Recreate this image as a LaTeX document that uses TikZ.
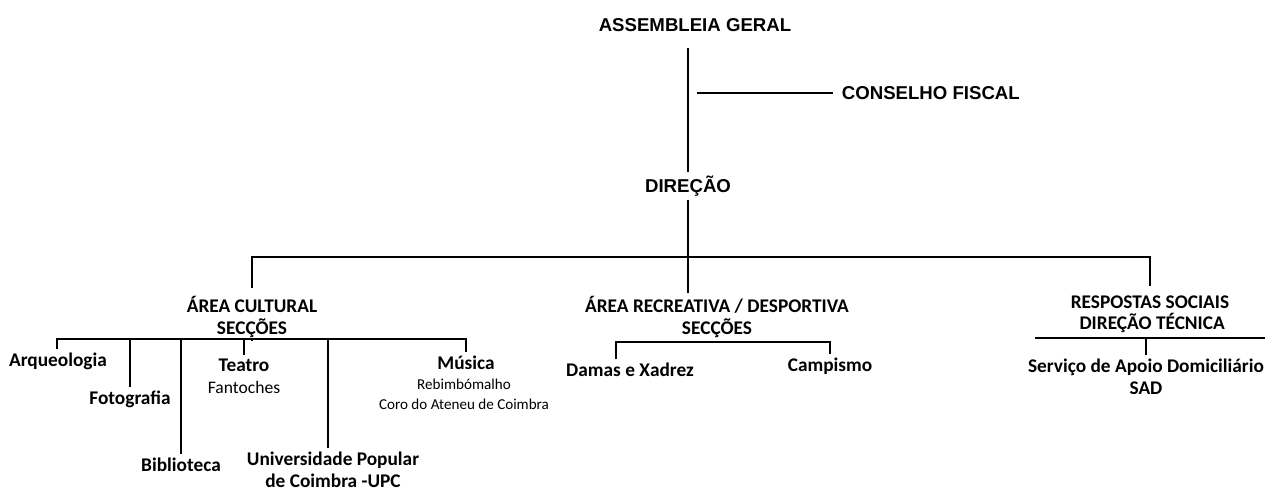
\documentclass[tikz,border=0pt]{standalone}
\usepackage{fontspec}
\setmainfont{Carlito}
\newfontfamily\arialfont{Liberation Sans}
\usetikzlibrary{positioning}

\tikzset{
  orglabel/.style={font=\arialfont\bfseries\fontsize{10.6}{12}\selectfont, inner sep=2pt},
  arealabel/.style={font=\bfseries\fontsize{11}{12}\selectfont, align=center, inner sep=2pt},
  seclabel/.style={font=\bfseries\fontsize{11}{12.5}\selectfont, align=center, inner sep=2pt},
  sublabel/.style={font=\fontsize{8.6}{11.4}\selectfont, align=center, inner sep=1pt},
  link/.style={line width=1pt},
}

\begin{document}
\begin{tikzpicture}[x=0.02cm, y=-0.02cm]
    \useasboundingbox (0,0) rectangle (1272,491);

    % Top of the chart
    \node[orglabel] (ag) at (695,25) {ASSEMBLEIA GERAL};
    \node[orglabel] (dir) at (688,186) {DIREÇÃO};
    \node[orglabel, anchor=west] (cf) at (838,93) {CONSELHO FISCAL};
    \draw[link, shorten <=7pt] (ag.south -| dir.north) -- (dir.north);
    \draw[link, shorten <=5pt, shorten >=3pt] (cf.west -| dir.north) -- (cf.west);

    % Areas
    \coordinate (bus) at (688,257);
    \node[arealabel] (cult) at (252,317) {ÁREA CULTURAL\\SECÇÕES};
    \node[arealabel] (rec) at (717,317) {ÁREA RECREATIVA / DESPORTIVA\\SECÇÕES};
    \node[arealabel] (soc) at (1150,314) {RESPOSTAS SOCIAIS\\\ DIREÇÃO TÉCNICA};
    \draw[link] (dir.south) -- (bus) -- (bus |- rec.north);
    \draw[link, shorten <=3pt, shorten >=3pt] (cult.north) |- (bus) -| (soc.north);

    % Cultural sections
    \coordinate (cbusL) at (57,339);
    \coordinate (cbusR) at (466,339);
    \node[seclabel] (arq) at (58,361) {Arqueologia};
    \node[seclabel] (foto) at (130,399) {Fotografia};
    \node[seclabel] (bib) at (181,465) {Biblioteca};
    \node[seclabel] (teat) at (244,365) {Teatro};
    \node[sublabel, font=\fontsize{10}{12}\selectfont, below=2pt of teat] (teatsub) {Fantoches};
    \node[seclabel] (upc) at (333,470) {Universidade Popular\\de Coimbra -UPC};
    \node[seclabel] (mus) at (466,363) {Música};
    \node[sublabel] (musub) at (464,394) {Rebimbómalho\\Coro do Ateneu de Coimbra};
    \draw[link] (cbusL |- arq.north) -- (cbusL) -- (cbusR) -- (cbusR |- mus.north);
    \draw[link] (cult.south) -- (cult.south |- cbusL);
    \foreach \sec in {foto,bib,teat}
        \draw[link] (\sec.north) -- (\sec.north |- cbusL);
    \draw[link] ([xshift=-3pt]upc.north) -- ([xshift=-3pt]upc.north |- cbusL);

    % Recreational sections
    \coordinate (rbusL) at (616,342);
    \coordinate (rbusR) at (830,342);
    \node[seclabel] (dam) at (630,370) {Damas e Xadrez};
    \node[seclabel] (camp) at (830,366) {Campismo};
    \draw[link] (rbusL |- dam.north) -- (rbusL) -- (rbusR) -- (camp.north);

    % Social services
    \coordinate (sbusL) at (1035,338);
    \coordinate (sbusR) at (1265,338);
    \node[seclabel] (sad) at (1146,377) {Serviço de Apoio Domiciliário\\SAD};
    \draw[link] (sbusL) -- (sbusR);
    \draw[link] (sad.north) -- (sad.north |- sbusL);
\end{tikzpicture}
\end{document}
